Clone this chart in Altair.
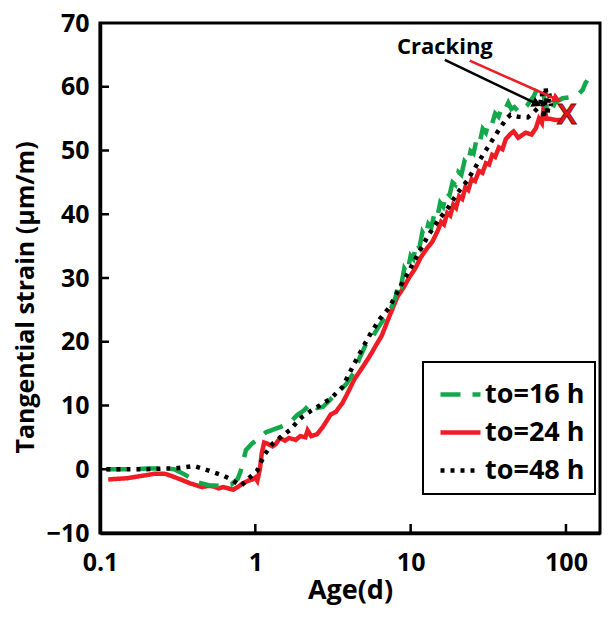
import altair as alt
import pandas as pd

SERIES = ["to=16 h", "to=24 h", "to=48 h"]
COLORS = ["#13a84b", "#ee1c25", "#000000"]
DASHES = [[20, 12], [1, 0], [4, 6]]

# to=16 h (green, dashed)
G_AGE = [0.11, 0.15, 0.2, 0.26, 0.3, 0.35, 0.42, 0.5, 0.6, 0.7, 0.77, 0.8, 0.87, 0.95, 1.05,
         1.17, 1.3, 1.47, 1.65, 1.86, 2.05, 2.29, 2.5, 2.73, 3.0, 3.24, 3.55, 3.86, 4.34, 4.7,
         5.15, 5.6, 6.13, 6.7, 7.3, 8.0, 8.4, 8.7, 9.1, 9.5, 10.0, 10.4, 10.9, 11.4, 11.9,
         12.4, 13.0, 13.6, 14.2, 14.8, 15.5, 16.2, 17.0, 17.8, 18.6, 19.4, 20.3, 21.2, 22.2,
         23.2, 24.3, 25.4, 26.6, 27.8, 29.1, 30.5, 32.0, 33.5, 35.0, 36.8, 38.6, 40.5, 42.5,
         44.5, 46.5, 50.0, 52.2, 56.0, 62.0, 66.0, 70.0, 74.0, 78.0, 85.0, 95.0, 109.0, 120.0,
         128.0, 133.0, 137.0]
G_STRAIN = [0.0, 0.0, 0.1, 0.1, 0.0, -0.8, -2.0, -2.5, -2.6, -2.4, -1.5, -0.5, 3.0, 4.0, 4.8,
            5.8, 6.2, 6.7, 7.2, 8.5, 9.2, 10.4, 9.6, 9.8, 10.8, 11.6, 12.5, 13.4, 15.3, 17.5,
            19.6, 20.5, 22.1, 23.5, 24.6, 27.0, 29.5, 28.9, 31.5, 30.8, 33.5, 33.0, 35.5, 34.8, 37.2,
            36.5, 38.5, 38.0, 40.0, 39.4, 41.8, 41.2, 43.5, 43.0, 45.0, 44.6, 46.6, 46.2, 48.3,
            47.8, 49.9, 49.5, 51.8, 51.2, 53.4, 52.8, 54.6, 54.2, 55.8, 55.3, 56.8, 56.4, 57.5,
            56.5, 56.8, 56.0, 56.3, 57.0, 58.5, 60.0, 59.8, 57.2, 55.5, 57.5, 58.2, 58.4, 58.8,
            59.5, 60.5, 61.0]

# to=24 h (red, solid)
R_AGE = [0.113, 0.15, 0.19, 0.226, 0.26, 0.285, 0.33, 0.38, 0.453, 0.5, 0.54, 0.58, 0.62, 0.67,
         0.72, 0.78, 0.83, 0.9, 0.96, 1.0, 1.03, 1.07, 1.1, 1.14, 1.2, 1.29, 1.35, 1.44, 1.55,
         1.65, 1.82, 1.95, 2.1, 2.17, 2.29, 2.5, 2.73, 3.06, 3.3, 3.64, 3.9, 4.34, 4.9, 5.47,
         6.0, 6.5, 7.3, 8.2, 9.0, 9.8, 10.7, 11.6, 12.7, 13.8, 15.0, 15.7, 16.4, 17.2, 18.0,
         18.8, 19.6, 20.5, 21.5, 22.5, 23.5, 24.7, 26.0, 27.5, 29.0, 30.5, 32.0, 33.5, 35.0,
         37.0, 39.0, 41.0, 43.9, 46.0, 49.3, 55.0, 60.0, 64.0, 67.0, 70.0, 72.0, 75.0, 78.0,
         85.0, 94.0]
R_STRAIN = [-1.6, -1.4, -1.0, -0.7, -0.7, -1.0, -1.6, -2.2, -2.8, -2.6, -2.7, -3.0, -2.8, -3.0,
            -3.2, -2.7, -2.2, -1.8, -1.6, -1.3, -1.8, 0.0, 2.5, 4.2, 4.0, 3.6, 3.9, 4.9, 4.5,
            4.9, 4.6, 5.2, 5.0, 6.1, 5.2, 5.5, 6.7, 8.6, 9.0, 10.4, 11.8, 14.1, 16.0, 17.8,
            19.5, 20.9, 24.0, 27.0, 28.5, 30.1, 31.5, 33.2, 34.6, 35.7, 37.5, 38.8, 38.4, 40.2, 39.8,
            41.5, 41.0, 42.8, 42.4, 44.2, 43.8, 45.5, 45.2, 46.8, 46.5, 48.0, 47.8, 49.3, 49.0,
            50.5, 50.2, 51.8, 52.6, 53.0, 52.0, 52.8, 52.5, 53.5, 55.0, 54.3, 57.0, 55.0, 55.0,
            54.8, 54.8]

# to=48 h (black, dotted)
B_AGE = [0.11, 0.15, 0.2, 0.25, 0.3, 0.35, 0.404, 0.47, 0.54, 0.62, 0.71, 0.81, 0.91, 1.03,
         1.14, 1.29, 1.45, 1.66, 1.87, 2.0, 2.29, 2.6, 3.06, 3.64, 4.34, 4.9, 5.47, 6.3, 7.3,
         8.5, 9.8, 11.3, 13.0, 15.0, 17.4, 20.0, 23.2, 27.0, 31.0, 36.0, 41.4, 43.9, 49.3, 56.7,
         62.0, 68.0, 70.0, 72.0, 74.0, 76.0, 78.0, 80.0]
B_STRAIN = [0.0, 0.0, 0.0, 0.1, 0.1, 0.3, 0.5, 0.0, -0.5, -1.0, -1.7, -2.6, -1.4, -0.2,
            2.2, 4.0, 5.0, 6.1, 7.5, 8.2, 9.2, 10.0, 11.1, 12.9, 16.6, 19.0, 21.1, 23.5, 25.4,
            28.5, 31.2, 34.0, 36.7, 39.0, 41.0, 43.3, 45.3, 48.0, 50.3, 52.8, 55.0, 55.6, 55.3, 55.2,
            56.0, 57.0, 59.0, 55.0, 60.0, 55.5, 59.0, 57.0]

Y_TICKS = [-10, 0, 10, 20, 30, 40, 50, 60, 70]
X_TICKS = [0.1, 1, 10, 100]
INNER_Y_TICKS = [0, 10, 20, 30, 40, 50, 60]
INNER_X_TICKS = [1, 10, 100]

CRACK_LABEL = ["Cracking"]
CRACK_AGE = [16.6]
CRACK_STRAIN = [66.3]
ARROW_BLACK_AGE = [16.6, 65.0]
ARROW_BLACK_STRAIN = [64.2, 57.3]
ARROW_RED_AGE = [24.0, 87.5]
ARROW_RED_STRAIN = [64.1, 58.0]
XMARK_AGE = [101.0]
XMARK_STRAIN = [55.5]

FONT = "Open Sans"

frames = []
for name, a, s in [(SERIES[0], G_AGE, G_STRAIN), (SERIES[1], R_AGE, R_STRAIN), (SERIES[2], B_AGE, B_STRAIN)]:
    frames.append(pd.DataFrame({"age": a, "strain": s, "series": name}))
lines_df = pd.concat(frames, ignore_index=True)

x_scale = alt.Scale(type="log", domain=[0.1, 165.6], nice=False)
y_scale = alt.Scale(domain=[-10, 70], nice=False)

x_enc = alt.X("age:Q", scale=x_scale,
              axis=alt.Axis(values=X_TICKS, format="~g", title="Age(d)", labelFlush=False,
                            labelPadding=17, titleBaseline="alphabetic", titleY=65,
                            titleFontSize=27))
y_enc = alt.Y("strain:Q", scale=y_scale,
              axis=alt.Axis(values=Y_TICKS, title="Tangential strain (μm/m)", labelPadding=11,
                            titleBaseline="alphabetic", titleX=-67, titleY=274))

legend = alt.Legend(title=None, orient="none", legendX=323, legendY=339, direction="vertical",
                    labelFont=FONT, labelFontSize=27, labelFontWeight="bold", labelColor="black",
                    symbolType="stroke", symbolSize=1600, symbolStrokeWidth=4.5, labelOffset=2,
                    rowPadding=2, padding=10, symbolOffset=5, strokeColor="black")
color_enc = alt.Color("series:N", scale=alt.Scale(domain=SERIES, range=COLORS), legend=legend)
dash_enc = alt.StrokeDash("series:N", scale=alt.Scale(domain=SERIES, range=DASHES), legend=legend)

def series_layer(name, first=False):
    return alt.Chart(lines_df).transform_filter(alt.datum.series == name).mark_line(
        strokeWidth=4.5).encode(
        x=x_enc if first else alt.X("age:Q", scale=x_scale),
        y=y_enc if first else alt.Y("strain:Q", scale=y_scale),
        color=color_enc, strokeDash=dash_enc)

red_layer = series_layer(SERIES[1], first=True)
green_layer = series_layer(SERIES[0])
black_layer = series_layer(SERIES[2])

ytick_df = pd.DataFrame({"strain": INNER_Y_TICKS})
xtick_df = pd.DataFrame({"age": INNER_X_TICKS})
yticks = alt.Chart(ytick_df).mark_rule(color="black", strokeWidth=2.5).encode(
    y=alt.Y("strain:Q", scale=y_scale), x=alt.value(0), x2=alt.value(9))
xticks = alt.Chart(xtick_df).mark_rule(color="black", strokeWidth=2.5).encode(
    x=alt.X("age:Q", scale=x_scale), y=alt.value(510), y2=alt.value(501))

crack_df = pd.DataFrame({"age": CRACK_AGE, "strain": CRACK_STRAIN, "label": CRACK_LABEL})
crack_text = alt.Chart(crack_df).mark_text(font=FONT, fontWeight="bold", fontSize=22,
                                           color="black", align="center", baseline="middle").encode(
    x=alt.X("age:Q", scale=x_scale), y=alt.Y("strain:Q", scale=y_scale), text="label:N")

def arrow(ages, strains, col, ang):
    df = pd.DataFrame({"age": [ages[0]], "strain": [strains[0]], "age2": [ages[1]], "strain2": [strains[1]]})
    rule = alt.Chart(df).mark_rule(color=col, strokeWidth=2.5).encode(
        x=alt.X("age:Q", scale=x_scale), y=alt.Y("strain:Q", scale=y_scale),
        x2="age2:Q", y2="strain2:Q")
    hdf = pd.DataFrame({"age": [ages[1]], "strain": [strains[1]]})
    head = alt.Chart(hdf).mark_point(shape="triangle-right", filled=True, size=120, angle=ang,
                                      color=col, opacity=1).encode(
        x=alt.X("age:Q", scale=x_scale), y=alt.Y("strain:Q", scale=y_scale))
    return rule + head

arrow_red = arrow(ARROW_RED_AGE, ARROW_RED_STRAIN, "#ee1c25", 24)
arrow_black = arrow(ARROW_BLACK_AGE, ARROW_BLACK_STRAIN, "black", 26)

xmark_df = pd.DataFrame({"age": XMARK_AGE, "strain": XMARK_STRAIN, "label": ["X"]})
xmark = alt.Chart(xmark_df).mark_text(font="Liberation Sans", fontWeight="bold", fontSize=30,
                                      color="#e8141c", stroke="#6a0a0a", strokeWidth=0.8,
                                      align="center", baseline="middle").encode(
    x=alt.X("age:Q", scale=x_scale), y=alt.Y("strain:Q", scale=y_scale), text="label:N")

chart = alt.layer(red_layer, green_layer, black_layer, yticks, xticks, arrow_red, arrow_black,
                  crack_text, xmark).properties(
    width=500, height=510,
    autosize=alt.AutoSizeParams(type="none"),
    padding={"left": 92, "top": 15, "right": 2, "bottom": 74},
).configure_axis(
    labelFont=FONT, labelFontSize=25, labelFontWeight="bold", labelColor="black",
    titleFont=FONT, titleFontSize=25, titleFontWeight="bold", titleColor="black",
    domainColor="black", domainWidth=3.5, grid=False, ticks=False
).configure_view(stroke="black", strokeWidth=3).configure_legend(strokeWidth=2)

chart.save("out.html", embed_options={"renderer": "svg", "actions": False})
